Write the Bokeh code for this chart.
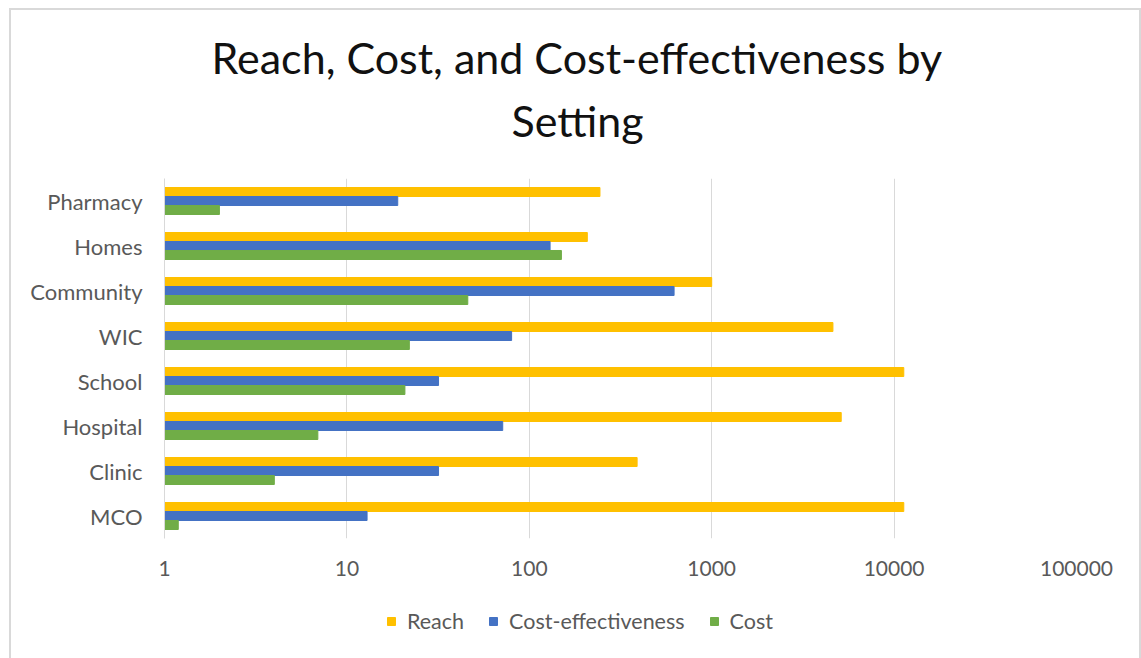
from bokeh.plotting import figure
from bokeh.models import (ColumnDataSource, FactorRange, FixedTicker, Legend, LegendItem, Title)
from bokeh.layouts import column
from bokeh.transform import dodge
from bokeh.embed import file_html
from bokeh.resources import INLINE

settings = ["MCO", "Clinic", "Hospital", "School", "WIC", "Community", "Homes", "Pharmacy"]
reach = [11300, 390, 5130, 11300, 4620, 1000, 208, 244]
cost_effectiveness = [12.9, 31.8, 71.5, 31.8, 80, 622, 130, 19]
cost = [1.19, 4.0, 6.93, 20.8, 22, 46, 150, 2.0]

tick_values = [1, 10, 100, 1000, 10000, 100000]
tick_labels = ["1", "10", "100", "1000", "10000", "100000"]

series_names = ["Reach", "Cost-effectiveness", "Cost"]
series_colors = ["#FFC000", "#4472C4", "#70AD47"]

FONT = "Lato"
GRAY = "#595959"
EDGE = "#D9D9D9"

src = ColumnDataSource(dict(setting=settings, reach=reach, ce=cost_effectiveness,
                            cost=cost, base=[1] * len(settings)))


def add_bars(fig):
    cols = ["reach", "ce", "cost"]
    shifts = [0.2, 0.0, -0.2]
    rs = []
    for c, s, col in zip(cols, shifts, series_colors):
        rs.append(fig.hbar(y=dodge("setting", s, range=fig.y_range), left="base", right=c,
                           height=0.2, color=col, source=src))
    return rs


# ---------------- main chart ----------------
p = figure(width=1141, height=600, y_range=FactorRange(factors=settings),
           x_axis_type="log", x_range=(1, 100000),
           output_backend="svg", toolbar_location=None,
           min_border_left=164, min_border_right=65,
           min_border_top=178, min_border_bottom=62,
           border_fill_alpha=0)
add_bars(p)

ticker = FixedTicker(ticks=tick_values, minor_ticks=[])
p.xaxis.ticker = ticker
p.xaxis.major_label_overrides = {v: l for v, l in zip(tick_values, tick_labels)}
p.xaxis.axis_line_color = None
p.xaxis.major_tick_line_color = None
p.xaxis.minor_tick_line_color = None
p.xaxis.major_label_standoff = 16
p.xaxis.major_label_text_font = FONT
p.xaxis.major_label_text_font_size = "21px"
p.xaxis.major_label_text_color = GRAY

p.yaxis.axis_line_color = EDGE
p.yaxis.major_tick_line_color = None
p.yaxis.minor_tick_line_color = None
p.yaxis.major_label_standoff = 16
p.yaxis.major_label_text_font = FONT
p.yaxis.major_label_text_font_size = "22px"
p.yaxis.major_label_text_color = GRAY

p.xgrid.ticker = ticker
p.xgrid.grid_line_color = EDGE
p.ygrid.grid_line_color = None
p.outline_line_color = None

p.add_layout(Title(text=" ", text_font=FONT, text_font_size="13px"), "above")
p.add_layout(Title(text="Setting", align="left", offset=347, text_font=FONT,
                   text_font_size="43px", text_font_style="normal",
                   text_color="#111111"), "above")
p.add_layout(Title(text="Reach, Cost, and Cost-effectiveness by", align="left",
                   offset=47, text_font=FONT, text_font_size="43px",
                   text_font_style="normal", text_color="#111111"), "above")

# ---------------- legend strip (its bars are hidden; only the legend shows) ----------------
q = figure(width=1141, height=58, y_range=FactorRange(factors=settings),
           x_axis_type="log", x_range=(1e-10, 1e-9),
           output_backend="svg", toolbar_location=None,
           min_border_left=0, min_border_right=0, min_border_top=0, min_border_bottom=0,
           border_fill_alpha=0, background_fill_alpha=0)
qr = add_bars(q)
for r in qr:
    r.visible = False
q.axis.visible = False
q.grid.grid_line_color = None
q.outline_line_color = None

legend = Legend(items=[LegendItem(label=n, renderers=[r]) for n, r in zip(series_names, qr)],
                orientation="horizontal", location=(222, 24),
                label_text_font=FONT, label_text_font_size="21.5px",
                label_text_color=GRAY, glyph_width=10, glyph_height=10,
                label_standoff=11, spacing=24, border_line_color=None,
                background_fill_alpha=0, margin=0, padding=0,
                inactive_fill_alpha=0)
q.add_layout(legend, "center")

layout = column(p, q, spacing=0)
layout.styles = {
    "background": ("linear-gradient(%s,%s) 9px 8px / 2px 100%% no-repeat, "
                   "linear-gradient(%s,%s) 9px 8px / 100%% 2px no-repeat, "
                   "linear-gradient(%s,%s) 1139px 8px / 2px 100%% no-repeat, #ffffff")
                  % (EDGE, EDGE, EDGE, EDGE, EDGE, EDGE)
}

open("out.html", "w").write(file_html(layout, INLINE))
